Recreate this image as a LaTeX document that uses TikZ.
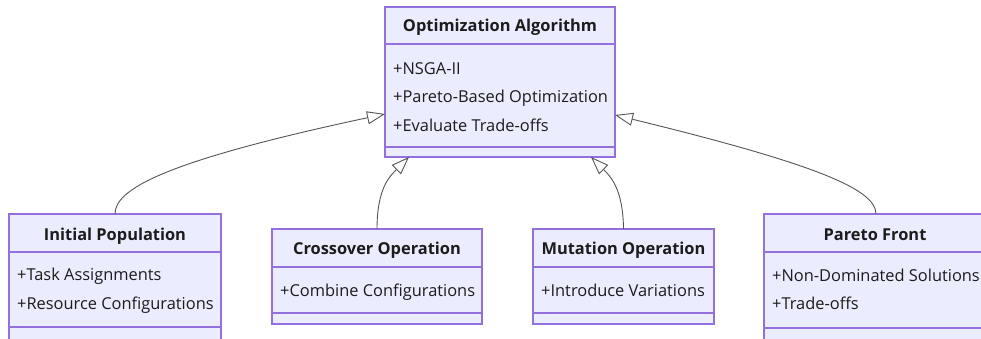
\documentclass[tikz,border=0pt]{standalone}
\usepackage{fontspec}
\setmainfont{Open Sans}
\usetikzlibrary{arrows.meta}
\definecolor{classfill}{HTML}{ECECFF}
\definecolor{classline}{HTML}{9370DB}
\definecolor{linkgray}{HTML}{555555}
\definecolor{inktext}{HTML}{1C1C1C}
\tikzset{
  classbox/.style={draw=classline, fill=classfill, line width=1.1pt, rectangle,
    inner sep=0pt, outer sep=0pt, anchor=north west},
  sepline/.style={draw=classline, line width=1.1pt},
  titletext/.style={font=\fontsize{16.4}{19}\selectfont\bfseries, text=inktext,
    inner sep=0pt, text height=0.72em, text depth=0.02em},
  member/.style={font=\fontsize{16.4}{19}\selectfont, text=inktext, anchor=west,
    inner sep=0pt, text height=0.72em, text depth=0.02em},
  inherit/.style={draw=linkgray, line width=0.9pt,
    -{Triangle[open, length=18pt, width=13pt, line width=0.9pt]}},
}
\begin{document}
\begin{tikzpicture}[x=1pt, y=-1pt]
\useasboundingbox (0,0) rectangle (981,339);
\clip (0,0) rectangle (981,339);

% Optimization Algorithm
\node[classbox, minimum width=230pt, minimum height=150pt] (opt) at (385,7) {};
\draw[sepline] (385,44) -- (615,44);
\draw[sepline] (385,147) -- (615,147);
\node[titletext] (optT) at (500,28) {Optimization Algorithm};
\node[member] (optA) at (393,71) {+NSGA-II};
\node[member] (optB) at (393,99) {+Pareto-Based Optimization};
\node[member] (optC) at (393,128) {+Evaluate Trade-offs};

% Initial Population
\node[classbox, minimum width=212pt, minimum height=140pt] (init) at (9,214) {};
\draw[sepline] (9,252) -- (221,252);
\draw[sepline] (9,327) -- (221,327);
\node[titletext] (initT) at (115,237) {Initial Population};
\node[member] (initA) at (17,277) {+Task Assignments};
\node[member] (initB) at (17,306) {+Resource Configurations};

% Crossover Operation
\node[classbox, minimum width=210pt, minimum height=95pt] (cross) at (272,229) {};
\draw[sepline] (272,267) -- (482,267);
\draw[sepline] (272,313) -- (482,313);
\node[titletext] (crossT) at (377,251) {Crossover Operation};
\node[member] (crossA) at (280,293) {+Combine Configurations};

% Mutation Operation
\node[classbox, minimum width=181pt, minimum height=95pt] (mut) at (533,229) {};
\draw[sepline] (533,267) -- (714,267);
\draw[sepline] (533,313) -- (714,313);
\node[titletext] (mutT) at (623.5,251) {Mutation Operation};
\node[member] (mutA) at (541,293) {+Introduce Variations};

% Pareto Front
\node[classbox, minimum width=222pt, minimum height=140pt] (pareto) at (764,214) {};
\draw[sepline] (764,252) -- (986,252);
\draw[sepline] (764,328) -- (986,328);
\node[titletext] (paretoT) at (875,237) {Pareto Front};
\node[member] (paretoA) at (772,278) {+Non-Dominated Solutions};
\node[member] (paretoB) at (772,306) {+Trade-offs};

% Inheritance links
\draw[inherit] (init.north) .. controls (115,190) and (160,162) .. ([yshift=-32pt]opt.west);
\draw[inherit] (cross.north) .. controls (377,188) and (390,176) .. ([xshift=24pt]opt.south west);
\draw[inherit] (mut.north) .. controls (623,188) and (610,176) .. ([xshift=-24pt]opt.south east);
\draw[inherit] (pareto.north -| 876,0) .. controls (876,190) and (820,165) .. ([yshift=-33pt]opt.east);
\end{tikzpicture}
\end{document}
